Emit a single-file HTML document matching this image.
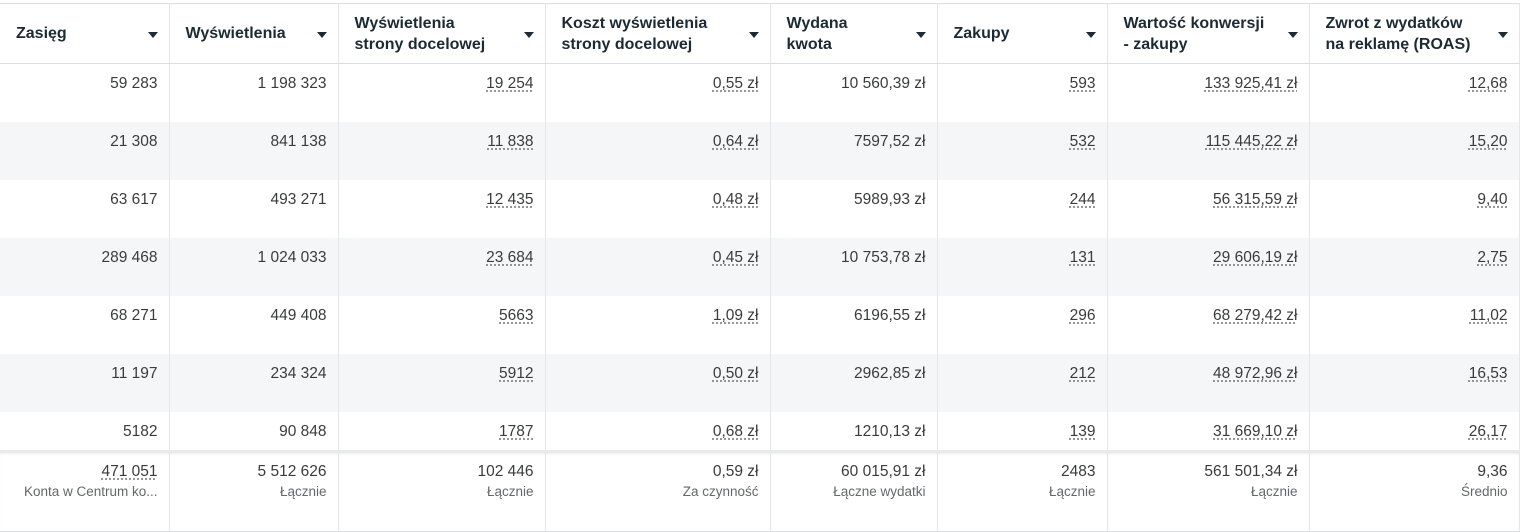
<!DOCTYPE html>
<html><head><meta charset="utf-8"><style>
body{margin:0;background:#fff;width:1522px;height:531px;overflow:hidden;font-family:"Liberation Sans","DejaVu Sans",sans-serif;}
table{position:absolute;left:0;top:3px;border-collapse:collapse;table-layout:fixed;width:1519px;}
td,th{border-right:1px solid #e4e6ea;padding:0 11px 0 10px;color:#3a3b3c;}
th{height:59px;text-align:left;font-weight:bold;font-size:16px;line-height:21px;color:#1c2b33;border-top:1px solid #dadde1;border-bottom:1px solid #dadde1;position:relative;padding-left:16px;padding-right:28px;white-space:nowrap;}
th:after{content:"";position:absolute;right:11px;top:28px;border-left:5px solid transparent;border-right:5px solid transparent;border-top:6px solid #1c2b33;}
td{text-align:right;vertical-align:top;font-size:15.5px;padding-top:11px;height:47px;}
tr.g td{background:#f5f6f7;}
tr.last td{height:27px;}
.u{text-decoration:underline dotted #777;text-underline-offset:3px;}
tr.sum td{height:69px;padding-top:10px;border-top:2px solid #e9eaec;box-shadow:inset 0 3px 3px -2px #ddd;border-bottom:1px solid #dadde1;line-height:20px}
.s{font-size:13.5px;color:#65676b;display:block}
</style></head><body>
<table>
<colgroup><col style="width:169px"><col style="width:169px"><col style="width:207px"><col style="width:225px"><col style="width:167px"><col style="width:170px"><col style="width:202px"><col style="width:210px"></colgroup>
<tr><th>Zasięg</th><th>Wyświetlenia</th><th>Wyświetlenia<br>strony docelowej</th><th>Koszt wyświetlenia<br>strony docelowej</th><th>Wydana<br>kwota</th><th>Zakupy</th><th>Wartość konwersji<br>- zakupy</th><th>Zwrot z wydatków<br>na reklamę (ROAS)</th></tr>
<tr><td>59 283</td><td>1 198 323</td><td><span class="u">19 254</span></td><td><span class="u">0,55 zł</span></td><td>10 560,39 zł</td><td><span class="u">593</span></td><td><span class="u">133 925,41 zł</span></td><td><span class="u">12,68</span></td></tr>
<tr class="g"><td>21 308</td><td>841 138</td><td><span class="u">11 838</span></td><td><span class="u">0,64 zł</span></td><td>7597,52 zł</td><td><span class="u">532</span></td><td><span class="u">115 445,22 zł</span></td><td><span class="u">15,20</span></td></tr>
<tr><td>63 617</td><td>493 271</td><td><span class="u">12 435</span></td><td><span class="u">0,48 zł</span></td><td>5989,93 zł</td><td><span class="u">244</span></td><td><span class="u">56 315,59 zł</span></td><td><span class="u">9,40</span></td></tr>
<tr class="g"><td>289 468</td><td>1 024 033</td><td><span class="u">23 684</span></td><td><span class="u">0,45 zł</span></td><td>10 753,78 zł</td><td><span class="u">131</span></td><td><span class="u">29 606,19 zł</span></td><td><span class="u">2,75</span></td></tr>
<tr><td>68 271</td><td>449 408</td><td><span class="u">5663</span></td><td><span class="u">1,09 zł</span></td><td>6196,55 zł</td><td><span class="u">296</span></td><td><span class="u">68 279,42 zł</span></td><td><span class="u">11,02</span></td></tr>
<tr class="g"><td>11 197</td><td>234 324</td><td><span class="u">5912</span></td><td><span class="u">0,50 zł</span></td><td>2962,85 zł</td><td><span class="u">212</span></td><td><span class="u">48 972,96 zł</span></td><td><span class="u">16,53</span></td></tr>
<tr class="last"><td>5182</td><td>90 848</td><td><span class="u">1787</span></td><td><span class="u">0,68 zł</span></td><td>1210,13 zł</td><td><span class="u">139</span></td><td><span class="u">31 669,10 zł</span></td><td><span class="u">26,17</span></td></tr>
<tr class="sum"><td><span class="u">471 051</span><span class="s">Konta w Centrum ko...</span></td><td>5 512 626<span class="s">Łącznie</span></td><td>102 446<span class="s">Łącznie</span></td><td>0,59 zł<span class="s">Za czynność</span></td><td>60 015,91 zł<span class="s">Łączne wydatki</span></td><td>2483<span class="s">Łącznie</span></td><td>561 501,34 zł<span class="s">Łącznie</span></td><td>9,36<span class="s">Średnio</span></td></tr>
</table>
</body></html>
